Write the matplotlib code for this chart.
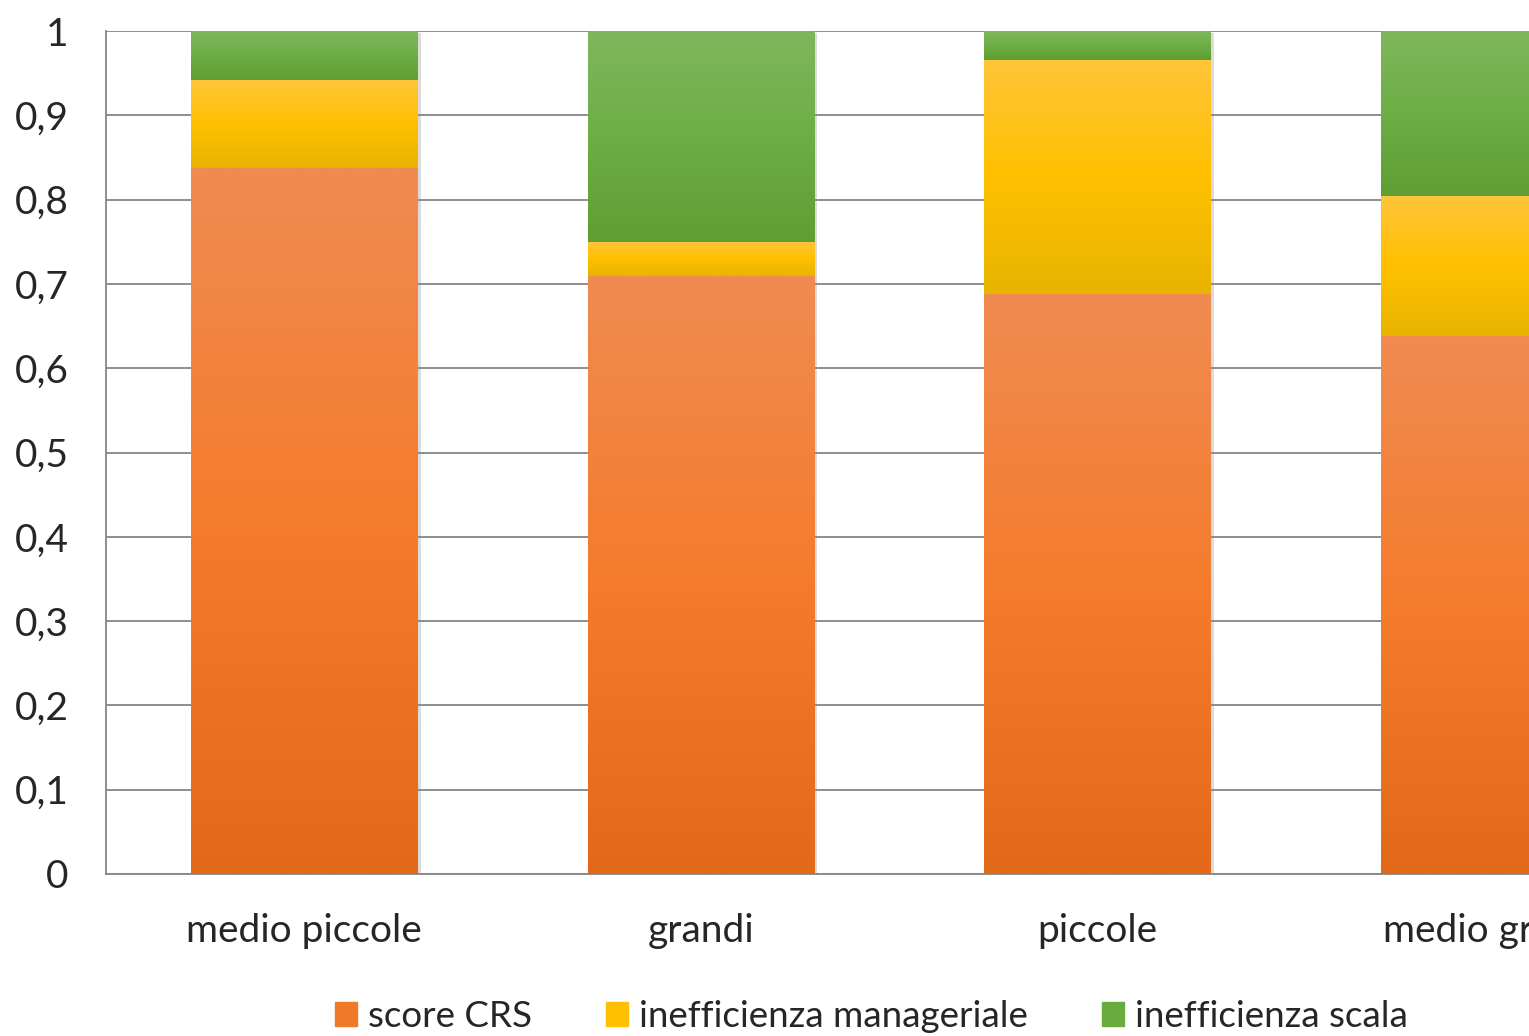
import numpy as np
import matplotlib.pyplot as plt
import matplotlib.patheffects as pe
from matplotlib.colors import LinearSegmentedColormap
from matplotlib.ticker import FuncFormatter

plt.rcParams['font.family'] = ['Lato', 'DejaVu Sans']

categories = ["medio piccole", "grandi", "piccole", "medio grandi"]
score_crs = [0.837, 0.709, 0.688, 0.638]
ineff_manageriale = [0.105, 0.041, 0.278, 0.166]
ineff_scala = [0.058, 0.250, 0.034, 0.196]
series_names = ["score CRS", "inefficienza manageriale", "inefficienza scala"]

# gradient stops (top, middle, bottom) for each series
grad_colors = [
    ["#F08B52", "#F47C2C", "#E2691A"],
    ["#FFC53A", "#FFC000", "#E8B400"],
    ["#7FB75C", "#6DAE45", "#5E9E33"],
]
legend_colors = ["#EE7A2A", "#FFC000", "#6AAB40"]

fig = plt.figure(figsize=(15.29, 10.36), dpi=100)
# the plot area runs past the right edge of the figure
ax = fig.add_axes([106 / 1529, 1 - 874 / 1036, 1586 / 1529, 843 / 1036])

x = np.arange(len(categories))
width = 0.57
stack = [score_crs, ineff_manageriale, ineff_scala]
bottom = np.zeros(len(categories))

for s, vals in enumerate(stack):
    cmap = LinearSegmentedColormap.from_list(series_names[s], grad_colors[s][::-1])
    bars = ax.bar(x, vals, width, bottom=bottom, color="none", zorder=3)
    for rect in bars:
        x0, y0 = rect.get_x(), rect.get_y()
        x1, y1 = x0 + rect.get_width(), y0 + rect.get_height()
        grad = np.linspace(0, 1, 256).reshape(-1, 1)
        im = ax.imshow(grad, extent=(x0, x1, y0, y1), origin="lower",
                       aspect="auto", cmap=cmap, zorder=3, interpolation="bilinear")
        im.set_clip_path(rect)
    bottom += np.array(vals)

# soft shadow behind whole columns
totals = bottom
shadow = ax.bar(x, totals, width, color="white", zorder=2.5,
                path_effects=[pe.SimplePatchShadow(offset=(2.5, -1.5), alpha=0.3,
                                                   shadow_rgbFace="#888888"),
                              pe.Normal()])

ax.set_xlim(-0.5, len(categories) - 0.5)
ax.set_ylim(0, 1)
ax.set_yticks(np.arange(0, 1.01, 0.1))
ax.yaxis.set_major_formatter(FuncFormatter(
    lambda v, p: "0" if v == 0 else ("1" if abs(v - 1) < 1e-9 else f"{v:.1f}".replace(".", ","))))
ax.set_xticks(x)
ax.set_xticklabels(categories)
ax.tick_params(axis="both", length=0, labelsize=28, colors="#262626")
ax.tick_params(axis="y", pad=27)
ax.tick_params(axis="x", pad=28)

ax.grid(axis="y", color="#868686", linewidth=1.3, zorder=0)
ax.set_axisbelow(True)
for side in ["top", "right"]:
    ax.spines[side].set_visible(False)
ax.spines["left"].set_color("#868686")
ax.spines["bottom"].set_color("#868686")
ax.spines["left"].set_linewidth(1.3)
ax.spines["bottom"].set_linewidth(1.3)

handles = [plt.Rectangle((0, 0), 1, 1, color=c) for c in legend_colors]
fig.legend(handles, series_names, loc="lower center", bbox_to_anchor=(0.570, -0.029),
           ncol=3, frameon=False, fontsize=26.5, handlelength=0.6, handleheight=0.6,
           handletextpad=0.3, columnspacing=2.0, labelcolor="#262626")

fig.savefig("out.png", dpi=100)
